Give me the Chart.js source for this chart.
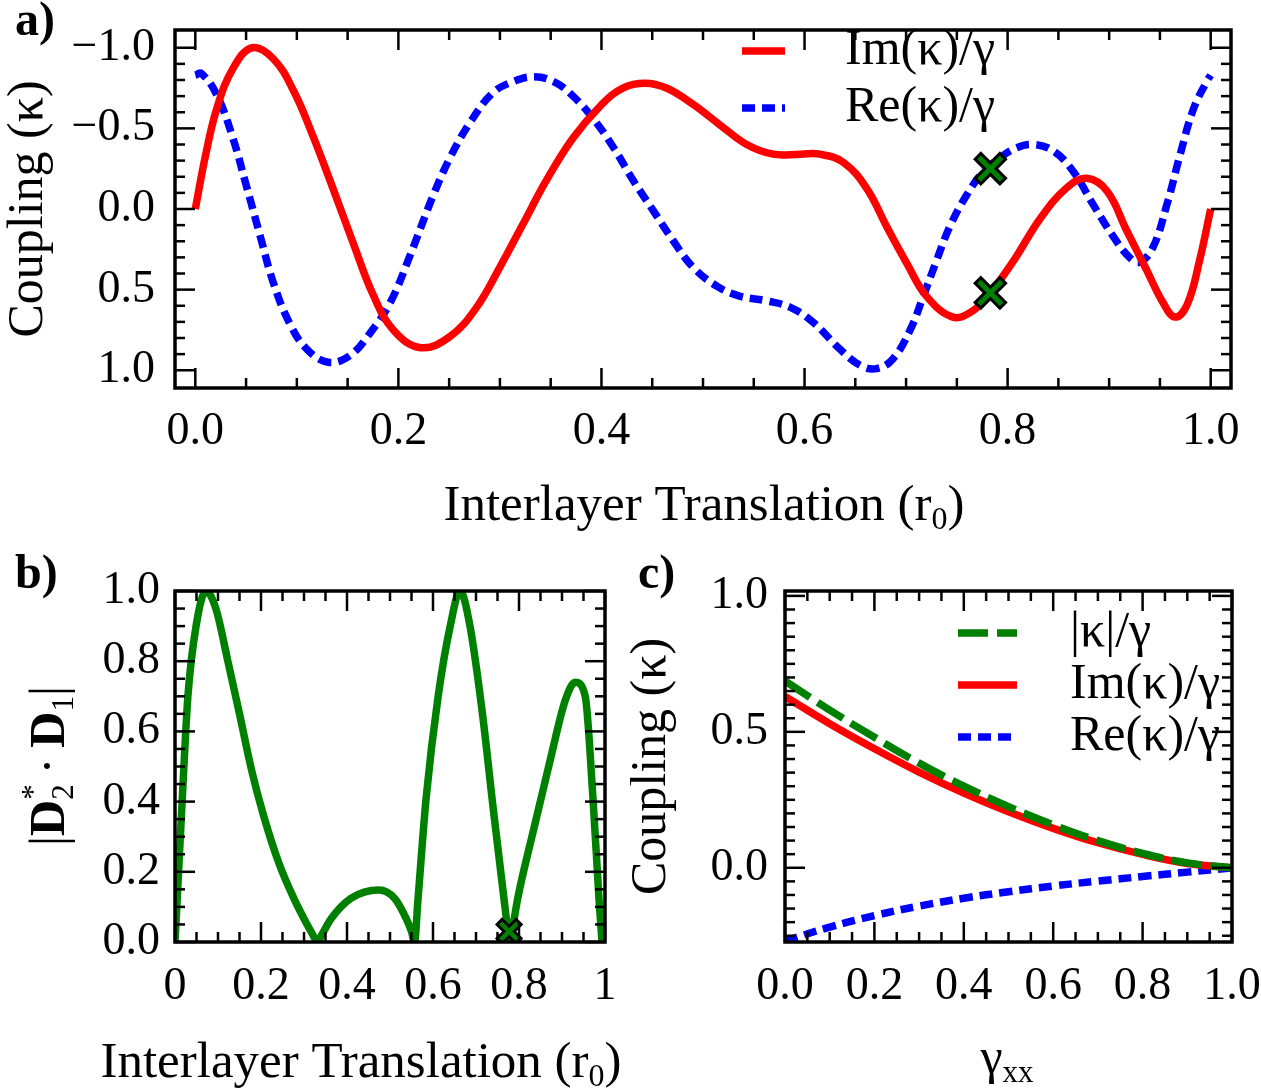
<!DOCTYPE html>
<html><head><meta charset="utf-8">
<script src="https://cdn.jsdelivr.net/npm/chart.js@4.4.1/dist/chart.umd.min.js"></script>
<style>
html,body{margin:0;padding:0;background:#fff;}
#wrap{position:relative;width:1261px;height:1090px;overflow:hidden;background:#fff;}
canvas{position:absolute;}
#ca{left:0;top:0;} #cb{left:0;top:540px;} #cc{left:630px;top:540px;}
</style></head>
<body><div id="wrap">
<canvas id="ca" width="1261" height="540"></canvas>
<canvas id="cb" width="630" height="550"></canvas>
<canvas id="cc" width="631" height="550"></canvas>
</div>
<script>
// ---------- Panel a: coupling vs interlayer translation ----------
const aImX = [0.000, 0.010, 0.021, 0.037, 0.056, 0.077, 0.097, 0.116, 0.136, 0.156, 0.175, 0.195, 0.222, 0.251, 0.277, 0.300, 0.323, 0.346, 0.372, 0.399, 0.421, 0.443, 0.464, 0.490, 0.517, 0.543, 0.569, 0.596, 0.615, 0.638, 0.661, 0.681, 0.701, 0.720, 0.746, 0.766, 0.783, 0.806, 0.832, 0.858, 0.878, 0.898, 0.917, 0.937, 0.953, 0.965, 0.977, 0.989, 1.000];
const aIm  = [0.00, -0.33, -0.62, -0.87, -1.00, -0.93, -0.73, -0.45, -0.12, 0.22, 0.53, 0.75, 0.86, 0.79, 0.61, 0.36, 0.09, -0.18, -0.44, -0.64, -0.75, -0.78, -0.75, -0.65, -0.52, -0.40, -0.34, -0.34, -0.34, -0.29, -0.13, 0.11, 0.34, 0.54, 0.67, 0.63, 0.52, 0.32, 0.06, -0.13, -0.19, -0.11, 0.13, 0.38, 0.58, 0.67, 0.59, 0.32, 0.00];
const aReX = [0.000, 0.006, 0.021, 0.037, 0.050, 0.064, 0.077, 0.093, 0.110, 0.131, 0.152, 0.172, 0.192, 0.212, 0.234, 0.251, 0.271, 0.293, 0.313, 0.333, 0.353, 0.372, 0.392, 0.412, 0.431, 0.451, 0.471, 0.490, 0.514, 0.536, 0.563, 0.586, 0.608, 0.635, 0.655, 0.671, 0.687, 0.704, 0.717, 0.730, 0.743, 0.760, 0.776, 0.793, 0.809, 0.825, 0.845, 0.865, 0.884, 0.904, 0.920, 0.930, 0.943, 0.957, 0.970, 0.983, 0.996, 1.000];
const aRe  = [-0.83, -0.84, -0.71, -0.44, -0.15, 0.17, 0.46, 0.71, 0.87, 0.95, 0.91, 0.77, 0.58, 0.28, -0.08, -0.32, -0.54, -0.72, -0.79, -0.82, -0.79, -0.70, -0.56, -0.38, -0.18, 0.01, 0.20, 0.36, 0.48, 0.54, 0.57, 0.61, 0.70, 0.87, 0.97, 0.99, 0.93, 0.75, 0.54, 0.32, 0.11, -0.09, -0.23, -0.32, -0.38, -0.40, -0.36, -0.23, -0.03, 0.17, 0.30, 0.33, 0.24, -0.03, -0.34, -0.62, -0.79, -0.83];
const aMarkX = [0.783, 0.783];
const aMarkY = [-0.25, 0.52];
const aXTicks = [0, 0.2, 0.4, 0.6, 0.8, 1.0];
const aXTickLabels = ['0.0', '0.2', '0.4', '0.6', '0.8', '1.0'];
const aYTicks = [-1, -0.5, 0, 0.5, 1];
const aYTickLabels = ['\u22121.0', '\u22120.5', '0.0', '0.5', '1.0'];

// ---------- Panel b: |D2* . D1| ----------
const bX = [0, 0.005, 0.017, 0.030, 0.049, 0.072, 0.095, 0.123, 0.150, 0.178, 0.206, 0.243, 0.280, 0.305, 0.320, 0.331, 0.342, 0.363, 0.409, 0.474, 0.511, 0.538, 0.550, 0.557, 0.565, 0.584, 0.612, 0.640, 0.663, 0.686, 0.714, 0.741, 0.765, 0.773, 0.779, 0.786, 0.797, 0.834, 0.871, 0.908, 0.931, 0.954, 0.972, 0.986, 0.993];
const bD = [0, 0.12, 0.41, 0.70, 0.90, 1.00, 0.95, 0.80, 0.65, 0.49, 0.36, 0.22, 0.115, 0.055, 0.022, 0.0, 0.022, 0.066, 0.124, 0.148, 0.124, 0.066, 0.03, 0.0, 0.12, 0.41, 0.70, 0.90, 1.00, 0.90, 0.66, 0.37, 0.124, 0.044, 0.0, 0.045, 0.124, 0.32, 0.51, 0.69, 0.74, 0.70, 0.41, 0.124, 0.0];
const bMarkX = [0.777];
const bMarkY = [0.03];
const bXTicks = [0, 0.2, 0.4, 0.6, 0.8, 1.0];
const bXTickLabels = ['0', '0.2', '0.4', '0.6', '0.8', '1'];
const bYTicks = [0, 0.2, 0.4, 0.6, 0.8, 1.0];
const bYTickLabels = ['0.0', '0.2', '0.4', '0.6', '0.8', '1.0'];

// ---------- Panel c: coupling vs gamma_xx ----------
const cGamma = [0, 0.1, 0.2, 0.3, 0.4, 0.5, 0.6, 0.7, 0.8, 0.9, 1.0];
const cAbs = [0.687, 0.580, 0.480, 0.385, 0.300, 0.225, 0.158, 0.100, 0.053, 0.018, 0.0];
const cIm  = [0.630, 0.530, 0.438, 0.352, 0.275, 0.206, 0.145, 0.092, 0.049, 0.016, 0.0];
const cRe  = [-0.270, -0.218, -0.176, -0.141, -0.112, -0.088, -0.067, -0.049, -0.032, -0.016, 0.0];
const cXTicks = [0, 0.2, 0.4, 0.6, 0.8, 1.0];
const cXTickLabels = ['0.0', '0.2', '0.4', '0.6', '0.8', '1.0'];
const cYTicks = [0, 0.5, 1.0];
const cYTickLabels = ['0.0', '0.5', '1.0'];

// ---------- styling ----------
const FAM = "'Liberation Serif','Times New Roman',serif";
const RED = '#ff0000', BLUE = '#0000ff', GREEN = '#008000';
const LW = 7.5;
Chart.defaults.font.family = FAM;
Chart.defaults.color = '#000';

const pts = (xs, ys) => xs.map((x, i) => ({x: x, y: ys[i]}));

// frame + inward ticks on all four sides
const frameTicks = {
  id: 'frameTicks',
  afterDatasetsDraw(chart, args, o) {
    const ctx = chart.ctx, a = chart.chartArea, xs = chart.scales.x, ys = chart.scales.y;
    ctx.save();
    ctx.strokeStyle = '#000';
    ctx.lineCap = 'butt';
    ctx.lineWidth = o.tickWidth;
    const seg = (x1, y1, x2, y2) => { ctx.beginPath(); ctx.moveTo(x1, y1); ctx.lineTo(x2, y2); ctx.stroke(); };
    const near = (v, arr) => arr.some(m => Math.abs(m - v) < 1e-6);
    const xTick = (v, len) => { const p = xs.getPixelForValue(v); seg(p, a.bottom, p, a.bottom - len); seg(p, a.top, p, a.top + len); };
    const yTick = (v, len) => { const p = ys.getPixelForValue(v); seg(a.left, p, a.left + len, p); seg(a.right, p, a.right - len, p); };
    const loop = (spec, major, fn) => {
      const n = Math.round((spec[1] - spec[0]) / spec[2]);
      for (let k = 0; k <= n; k++) { const v = spec[0] + k * spec[2]; if (!near(v, major)) fn(v, o.minorLen); }
      major.forEach(v => fn(v, o.majorLen));
    };
    loop(o.xMinor, o.xMajor, xTick);
    loop(o.yMinor, o.yMajor, yTick);
    ctx.lineWidth = o.frameWidth;
    ctx.strokeRect(a.left, a.top, a.right - a.left, a.bottom - a.top);
    ctx.restore();
  }
};

// legend drawn inside the plot area from the dataset styles
const inLegend = {
  id: 'inLegend',
  afterDraw(chart, args, o) {
    if (!o.rows) return;
    const ctx = chart.ctx;
    o.rows.forEach(row => {
      const ds = chart.data.datasets[row.ds];
      ctx.save();
      ctx.strokeStyle = ds.borderColor;
      ctx.lineWidth = ds.borderWidth;
      ctx.setLineDash(ds.borderDash || []);
      ctx.beginPath(); ctx.moveTo(o.x0, row.y); ctx.lineTo(o.x1, row.y); ctx.stroke();
      ctx.setLineDash([]);
      ctx.fillStyle = '#000';
      ctx.font = o.size + 'px ' + FAM;
      ctx.textBaseline = 'middle';
      ctx.textAlign = 'left';
      ctx.fillText(ds.label, o.tx, row.y);
      ctx.restore();
    });
  }
};

// rich text (sub/superscripts, bold runs) for titles and panel letters
function drawRich(ctx, it) {
  const S = it.size;
  const SS = Math.round(S * 0.62);
  const font = (sz, bold) => (bold ? 'bold ' : '') + sz + 'px ' + FAM;
  const parts = it.runs.map(r => {
    if (r.t !== undefined) { ctx.font = font(S, r.bold); return {r: r, w: ctx.measureText(r.t).width}; }
    ctx.font = font(SS, false);
    let w = 0;
    if (r.sub) w = Math.max(w, ctx.measureText(r.sub).width);
    if (r.sup) w = Math.max(w, ctx.measureText(r.sup).width);
    return {r: r, w: w};
  });
  const total = parts.reduce((s, p) => s + p.w, 0);
  ctx.save();
  ctx.translate(it.x, it.y);
  if (it.rot) ctx.rotate(it.rot * Math.PI / 180);
  ctx.fillStyle = '#000';
  ctx.textBaseline = 'alphabetic';
  ctx.textAlign = 'left';
  let x = it.align === 'left' ? 0 : -total / 2;
  parts.forEach(p => {
    const r = p.r;
    if (r.t !== undefined) { ctx.font = font(S, r.bold); ctx.fillText(r.t, x, 0); }
    else {
      ctx.font = font(SS, false);
      if (r.sub) ctx.fillText(r.sub, x, S * 0.18);
      if (r.sup) ctx.fillText(r.sup, x, -S * 0.42);
    }
    x += p.w;
  });
  ctx.restore();
}
const richText = {
  id: 'richText',
  afterDraw(chart, args, o) { (o.items || []).forEach(it => drawRich(chart.ctx, it)); }
};

function scaleCfg(min, max, ticks, labels, pad, fitSize, isX, extra) {
  const c = {
    type: 'linear', min: min, max: max,
    grid: {display: false, drawTicks: false},
    border: {display: false},
    afterBuildTicks: s => { s.ticks = ticks.map(v => ({value: v})); },
    afterFit: s => {
      if (isX) s.height = fitSize; else s.width = fitSize;
      s.paddingTop = 0; s.paddingBottom = 0; s.paddingLeft = 0; s.paddingRight = 0;
    },
    ticks: {autoSkip: false, maxRotation: 0, minRotation: 0, padding: pad, color: '#000',
            font: {size: 46, family: FAM}, callback: (v, i) => labels[i]}
  };
  return Object.assign(c, extra || {});
}

const baseOpts = {responsive: false, animation: false, devicePixelRatio: 1, events: []};

function lineDs(label, xs, ys, color, dash, order, mono) {
  const d = {label: label, data: pts(xs, ys), showLine: true, borderColor: color, backgroundColor: color,
          borderWidth: LW, borderDash: dash, pointRadius: 0, fill: false, order: order};
  if (mono) d.cubicInterpolationMode = 'monotone'; else d.tension = 0.4;
  return d;
}
function markDs(label, xs, ys, color, r, w, order, clip) {
  const d = {label: label, data: pts(xs, ys), showLine: false, pointStyle: 'crossRot', pointRadius: r,
          pointBorderWidth: w, pointBorderColor: color, pointBackgroundColor: color, order: order};
  if (clip !== undefined) d.clip = clip;
  return d;
}

const xTitleRuns = [{t: 'Interlayer Translation (r'}, {sub: '0'}, {t: ')'}];

// ---------- chart a ----------
new Chart(document.getElementById('ca'), {
  type: 'scatter',
  data: {datasets: [
    markDs('markG', aMarkX, aMarkY, GREEN, 16, 5, 0, false),
    markDs('markK', aMarkX, aMarkY, '#000', 19, 11, 1, false),
    lineDs('Im(\u03ba)/\u03b3', aImX, aIm, RED, [], 2),
    lineDs('Re(\u03ba)/\u03b3', aReX, aRe, BLUE, [13, 7], 3)
  ]},
  options: Object.assign({}, baseOpts, {
    layout: {padding: {left: 0, top: 9, right: 30, bottom: 0}},
    scales: {
      x: scaleCfg(-0.02, 1.02, aXTicks, aXTickLabels, 16, 152, true),
      y: scaleCfg(-1.11, 1.11, aYTicks, aYTickLabels, 20, 175, false, {
        reverse: true,
        title: {display: true, text: 'Coupling (\u03ba)', color: '#000', font: {size: 50, lineHeight: 1, family: FAM}, padding: {top: 4, bottom: 0}}
      })
    },
    plugins: {
      legend: {display: false}, tooltip: {enabled: false},
      frameTicks: {xMajor: aXTicks, xMinor: [0, 1, 0.05], yMajor: aYTicks, yMinor: [-1, 1, 0.1], majorLen: 20, minorLen: 10, tickWidth: 2.5, frameWidth: 3.5},
      inLegend: {x0: 742, x1: 785, tx: 845, size: 50, rows: [{ds: 2, y: 51}, {ds: 3, y: 108}]},
      richText: {items: [
        {x: 704, y: 520, size: 51, runs: xTitleRuns},
        {x: 15, y: 35, size: 48, align: 'left', runs: [{t: 'a)', bold: true}]}
      ]}
    }
  }),
  plugins: [frameTicks, inLegend, richText]
});

// ---------- chart b ----------
new Chart(document.getElementById('cb'), {
  type: 'scatter',
  data: {datasets: [
    markDs('markG', bMarkX, bMarkY, GREEN, 12, 4.5, 0),
    markDs('markK', bMarkX, bMarkY, '#000', 15, 10, 1),
    lineDs('|D2*\u00b7D1|', bX, bD, GREEN, [], 2, true)
  ]},
  options: Object.assign({}, baseOpts, {
    layout: {padding: {left: 0, top: 51, right: 20, bottom: 0}},
    scales: {
      x: scaleCfg(0, 1, bXTicks, bXTickLabels, 17, 148, true),
      y: scaleCfg(0, 1, bYTicks, bYTickLabels, 15, 175, false)
    },
    plugins: {
      legend: {display: false}, tooltip: {enabled: false},
      frameTicks: {xMajor: bXTicks, xMinor: [0, 1, 0.05], yMajor: bYTicks, yMinor: [0, 1, 0.05], majorLen: 20, minorLen: 10, tickWidth: 2.5, frameWidth: 3.5},
      richText: {items: [
        {x: 361, y: 537, size: 51, runs: xTitleRuns},
        {x: 64, y: 226, size: 50, rot: -90, runs: [{t: '|'}, {t: 'D', bold: true}, {sub: '2', sup: '*'}, {t: '\u2009\u00b7\u2009'}, {t: 'D', bold: true}, {sub: '1'}, {t: '|'}]},
        {x: 15, y: 48, size: 48, align: 'left', runs: [{t: 'b)', bold: true}]}
      ]}
    }
  }),
  plugins: [frameTicks, richText]
});

// ---------- chart c ----------
new Chart(document.getElementById('cc'), {
  type: 'scatter',
  data: {datasets: [
    lineDs('|\u03ba|/\u03b3', cGamma, cAbs, GREEN, [30, 9], 0),
    lineDs('Im(\u03ba)/\u03b3', cGamma, cIm, RED, [], 1),
    lineDs('Re(\u03ba)/\u03b3', cGamma, cRe, BLUE, [13, 7], 2)
  ]},
  options: Object.assign({}, baseOpts, {
    layout: {padding: {left: 0, top: 51, right: 29, bottom: 0}},
    scales: {
      x: scaleCfg(0, 1, cXTicks, cXTickLabels, 17, 148, true),
      y: scaleCfg(-0.273, 1.018, cYTicks, cYTickLabels, 17, 155, false, {
        title: {display: true, text: 'Coupling (\u03ba)', color: '#000', font: {size: 50, lineHeight: 1, family: FAM}, padding: {top: -3, bottom: 0}}
      })
    },
    plugins: {
      legend: {display: false}, tooltip: {enabled: false},
      frameTicks: {xMajor: cXTicks, xMinor: [0, 1, 0.05], yMajor: cYTicks, yMinor: [-0.25, 1, 0.05], majorLen: 20, minorLen: 10, tickWidth: 2.5, frameWidth: 3.5},
      inLegend: {x0: 328, x1: 387, tx: 440, size: 50, rows: [{ds: 0, y: 93}, {ds: 1, y: 145}, {ds: 2, y: 197}]},
      richText: {items: [
        {x: 377, y: 533, size: 50, runs: [{t: '\u03b3'}, {sub: 'xx'}]},
        {x: 8, y: 48, size: 48, align: 'left', runs: [{t: 'c)', bold: true}]}
      ]}
    }
  }),
  plugins: [frameTicks, inLegend, richText]
});
</script>
</body></html>
